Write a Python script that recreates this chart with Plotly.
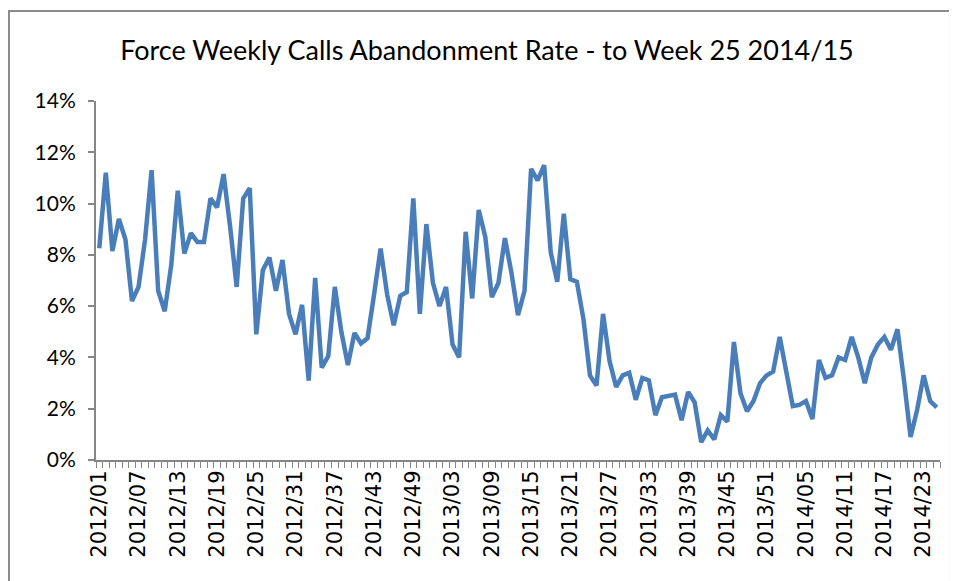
import plotly.graph_objects as go

# weekly abandonment rate (%) from 2012/01 to 2014/25
rate_2012 = [
    8.26, 11.2, 8.15, 9.4, 8.6, 6.2, 6.75, 8.6, 11.3, 6.6,
    5.8, 7.6, 10.5, 8.05, 8.85, 8.5, 8.5, 10.2, 9.85, 11.15,
    9.1, 6.75, 10.2, 10.6, 4.9, 7.4, 7.9, 6.6, 7.8, 5.7,
    4.9, 6.05, 3.1, 7.1, 3.6, 4.05, 6.75, 5.0, 3.7, 4.95,
    4.55, 4.75, 6.45, 8.25, 6.45, 5.25, 6.4, 6.55, 10.2, 5.7,
    9.2, 6.9,
]
rate_2013 = [
    6.0, 6.75, 4.5, 4.0, 8.9, 6.3, 9.75, 8.7, 6.35, 6.9,
    8.65, 7.3, 5.65, 6.6, 11.35, 10.9, 11.5, 8.1, 6.95, 9.6,
    7.05, 6.95, 5.5, 3.3, 2.9, 5.7, 3.85, 2.85, 3.3, 3.4,
    2.35, 3.2, 3.1, 1.75, 2.45, 2.5, 2.55, 1.55, 2.65, 2.25,
    0.7, 1.15, 0.8, 1.75, 1.5, 4.6, 2.6, 1.9, 2.3, 3.0,
    3.3, 3.45,
]
rate_2014 = [
    4.8, 3.45, 2.1, 2.15, 2.3, 1.6, 3.9, 3.2, 3.3, 4.0,
    3.9, 4.8, 4.0, 3.0, 4.0, 4.5, 4.8, 4.3, 5.1, 3.1,
    0.9, 1.95, 3.3, 2.3, 2.05,
]

weeks = (
    [f"2012/{w:02d}" for w in range(1, 53)]
    + [f"2013/{w:02d}" for w in range(1, 53)]
    + [f"2014/{w:02d}" for w in range(1, 26)]
)
rates = rate_2012 + rate_2013 + rate_2014
idx = list(range(len(weeks)))
label_idx = idx[::6]

fig = go.Figure(go.Scatter(
    x=idx, y=rates, mode="lines",
    line=dict(color="#4a7ebb", width=4.5),
    customdata=weeks, hovertemplate="%{customdata}: %{y:.1f}%<extra></extra>",
))

# page body has an 8px default margin, so margins are shifted to compensate
fig.update_layout(
    width=957, height=581,
    margin=dict(l=88, r=25, t=93, b=129),
    paper_bgcolor="white", plot_bgcolor="white",
    showlegend=False,
    title=dict(
        text="Force Weekly Calls Abandonment Rate - to Week 25 2014/15",
        x=0.5005, xref="container", y=0.927, yref="container",
        xanchor="center", yanchor="middle",
        font=dict(family="Lato", size=27, color="black"),
    ),
    xaxis=dict(
        range=[-0.5, len(weeks) - 0.5],
        tickmode="array", tickvals=label_idx,
        ticktext=[weeks[i] for i in label_idx],
        tickangle=-90, ticks="", ticklen=0,
        tickfont=dict(family="DejaVu Sans", size=21, color="black"),
        showline=True, linecolor="#868686", linewidth=2,
        showgrid=False, zeroline=False,
        minor=dict(tick0=-0.5, dtick=1, ticks="outside", ticklen=6,
                   tickcolor="#868686", tickwidth=1, showgrid=False),
    ),
    yaxis=dict(
        range=[0, 14], dtick=2, ticksuffix="%",
        ticks="outside", ticklen=6, tickcolor="#868686", tickwidth=2,
        ticklabelstandoff=8,
        tickfont=dict(family="Lato", size=21, color="black"),
        showline=True, linecolor="#868686", linewidth=2,
        showgrid=False, zeroline=False,
    ),
    shapes=[dict(
        type="rect", xref="paper", yref="paper",
        x0=-0.1031, x1=1.0118, y0=-0.4, y1=1.2507,
        line=dict(color="#8c8c8c", width=2), fillcolor="rgba(0,0,0,0)",
        layer="below",
    )],
)

fig.write_html("out.html")
